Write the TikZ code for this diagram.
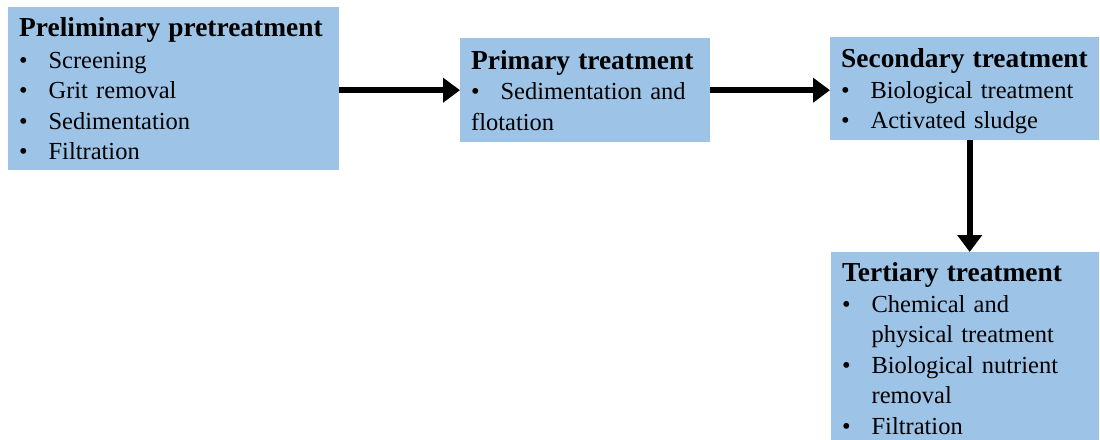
\documentclass[tikz,border=0pt]{standalone}
\usepackage{fontspec}
\setmainfont{Liberation Serif}
\usetikzlibrary{arrows.meta}
\definecolor{boxblue}{RGB}{157,195,230}
\newcommand{\bul}[1]{\makebox[1.2em][l]{\textbullet}#1}
\newcommand{\hd}[1]{{\fontsize{27.4}{30.5}\selectfont\bfseries #1}}
\tikzset{
  stage/.style={fill=boxblue, anchor=north west, inner xsep=11pt, inner ysep=0pt,
    align=left, font=\fontsize{24.5}{30.5}\selectfont},
  flow/.style={line width=6pt, -{Triangle[length=17pt,width=24pt]}}
}
\begin{document}
\begin{tikzpicture}[x=1pt,y=-1pt]
        \useasboundingbox (0,0) rectangle (1100,439);

        \node[stage, text width=309pt, minimum height=163pt] (prelim) at (8,7)
          {\hd{Preliminary pretreatment}\\[1.5pt] \bul{Screening}\\ \bul{Grit removal}\\
           \bul{Sedimentation}\\ \bul{Filtration}};
        \node[stage, text width=228pt, minimum height=104pt] (primary) at (460,38)
          {\hd{Primary treatment}\\ \bul{Sedimentation and}\\ flotation};
        \node[stage, text width=247pt, minimum height=103pt] (secondary) at (830,37)
          {\hd{Secondary treatment}\\ \bul{Biological treatment}\\ \smash{\bul{Activated sludge}}};
        \node[stage, text width=246pt, minimum height=193pt] (tertiary) at (831,252)
          {\hd{Tertiary treatment}\\ \bul{Chemical and}\\ \hspace*{1.2em}physical treatment\\
           \bul{Biological nutrient}\\ \hspace*{1.2em}removal\\ \bul{Filtration}};

        \draw[flow] (prelim.east |- primary.west) -- (primary.west);
        \draw[flow] (primary.east) -- (secondary.west |- primary.east);
        \draw[flow] ([xshift=5pt]secondary.south) -- ([xshift=5pt]secondary.south |- tertiary.north);
    \end{tikzpicture}
\end{document}
